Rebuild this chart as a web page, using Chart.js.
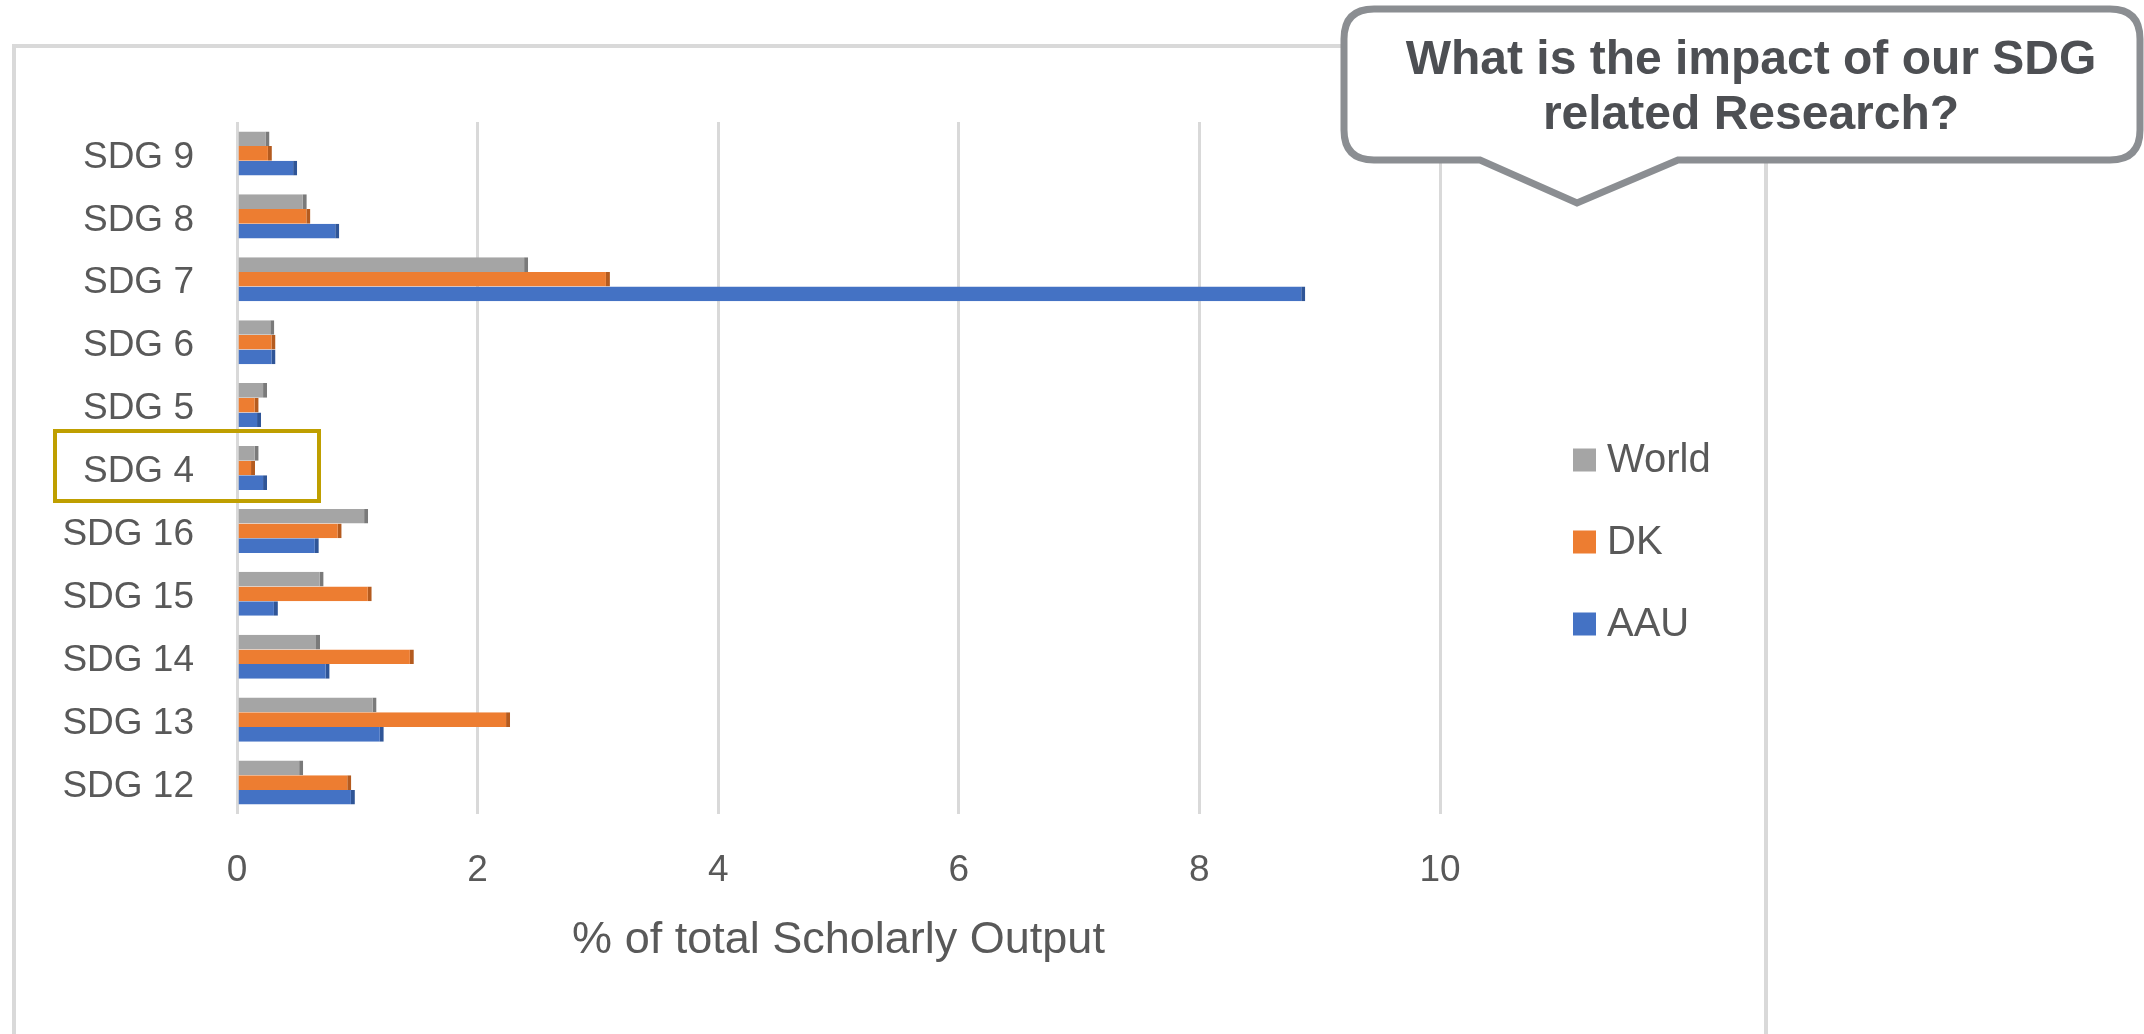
<!DOCTYPE html>
<html>
<head>
<meta charset="utf-8">
<script src="https://cdn.jsdelivr.net/npm/chart.js@4.4.1/dist/chart.umd.min.js"></script>
<style>
  html, body { margin: 0; padding: 0; background: #ffffff; }
  #wrap { width: 2144px; height: 1034px; position: relative; }
</style>
</head>
<body>
<div id="wrap"><canvas id="c" width="2144" height="1034"></canvas></div>
<script>
// ---- data ----
const categories = ['SDG 9', 'SDG 8', 'SDG 7', 'SDG 6', 'SDG 5', 'SDG 4', 'SDG 16', 'SDG 15', 'SDG 14', 'SDG 13', 'SDG 12'];
const seriesNames = ['World', 'DK', 'AAU'];
const worldValues = [0.27, 0.58, 2.42, 0.31, 0.25, 0.18, 1.09, 0.72, 0.69, 1.16, 0.55];
const dkValues    = [0.29, 0.61, 3.10, 0.32, 0.18, 0.15, 0.87, 1.12, 1.47, 2.27, 0.95];
const aauValues   = [0.50, 0.85, 8.88, 0.32, 0.20, 0.25, 0.68, 0.34, 0.77, 1.22, 0.98];
const xTickValues = [0, 2, 4, 6, 8, 10];
const axisTitle = '% of total Scholarly Output';
const calloutLines = ['What is the impact of our SDG', 'related Research?'];
const highlightedCategory = 'SDG 4';

// ---- styles ----
const colors = { World: '#A5A5A5', DK: '#ED7D31', AAU: '#4472C4' };
const edgeColors = { World: '#7A7A7A', DK: '#B45B1F', AAU: '#2F5597' };
const textColor = '#595959';
const fontFamily = '"Liberation Sans", Arial, sans-serif';

const valuesBySeries = { World: worldValues, DK: dkValues, AAU: aauValues };

const framePlugin = {
  id: 'frame',
  beforeDraw(chart) {
    const ctx = chart.ctx;
    ctx.save();
    ctx.fillStyle = '#ffffff';
    ctx.fillRect(0, 0, chart.width, chart.height);
    ctx.strokeStyle = '#D9D9D9';
    ctx.lineWidth = 4;
    ctx.beginPath();
    ctx.moveTo(14, chart.height + 10);
    ctx.lineTo(14, 46);
    ctx.lineTo(1766, 46);
    ctx.lineTo(1766, chart.height + 10);
    ctx.stroke();
    ctx.restore();
  }
};

const extrasPlugin = {
  id: 'extras',
  afterDraw(chart) {
    const ctx = chart.ctx;
    ctx.save();
    // legend
    const legendX = 1573, legendY0 = 460, legendStep = 82, box = 23;
    ctx.font = '40px ' + fontFamily;
    ctx.textBaseline = 'middle';
    ctx.textAlign = 'left';
    chart.data.datasets.forEach((ds, i) => {
      const cy = legendY0 + i * legendStep;
      ctx.fillStyle = ds.backgroundColor;
      ctx.fillRect(legendX, cy - box / 2, box, box);
      ctx.fillStyle = textColor;
      ctx.fillText(ds.label, legendX + 34, cy + 1);
    });

    // highlight box around category label
    const yScale = chart.scales.y;
    const idx = categories.indexOf(highlightedCategory);
    const py = yScale.getPixelForValue(idx);
    ctx.strokeStyle = '#BF9F00';
    ctx.lineWidth = 4;
    ctx.strokeRect(55, py - 37, 264, 70);

    // callout
    const L = 1344, R = 2140, T = 9, B = 160, r = 30;
    const pL = 1480, pR = 1678, pTipX = 1577, pTipY = 203;
    ctx.beginPath();
    ctx.moveTo(L + r, T);
    ctx.lineTo(R - r, T);
    ctx.quadraticCurveTo(R, T, R, T + r);
    ctx.lineTo(R, B - r);
    ctx.quadraticCurveTo(R, B, R - r, B);
    ctx.lineTo(pR, B);
    ctx.lineTo(pTipX, pTipY);
    ctx.lineTo(pL, B);
    ctx.lineTo(L + r, B);
    ctx.quadraticCurveTo(L, B, L, B - r);
    ctx.lineTo(L, T + r);
    ctx.quadraticCurveTo(L, T, L + r, T);
    ctx.closePath();
    ctx.fillStyle = '#ffffff';
    ctx.fill();
    ctx.strokeStyle = '#8B8E92';
    ctx.lineWidth = 7;
    ctx.lineJoin = 'miter';
    ctx.stroke();
    ctx.fillStyle = '#4D4F53';
    ctx.font = 'bold 48px ' + fontFamily;
    ctx.textAlign = 'center';
    ctx.textBaseline = 'middle';
    ctx.fillText(calloutLines[0], 1751, 61);
    ctx.fillText(calloutLines[1], 1751, 116);
    ctx.restore();
  }
};

const datasets = seriesNames.map(name => ({
  label: name,
  data: valuesBySeries[name],
  backgroundColor: colors[name],
  borderColor: edgeColors[name],
  borderWidth: { top: 0, right: 4, bottom: 0, left: 0 },
  borderSkipped: 'start',
  categoryPercentage: 0.7,
  barPercentage: 1.0
}));

new Chart(document.getElementById('c'), {
  type: 'bar',
  data: { labels: categories, datasets },
  plugins: [framePlugin, extrasPlugin],
  options: {
    indexAxis: 'y',
    responsive: false,
    animation: false,
    devicePixelRatio: 1,
    layout: { padding: { left: 0, top: 122, right: 704, bottom: 0 } },
    plugins: {
      legend: { display: false },
      tooltip: { enabled: false },
      title: { display: false }
    },
    scales: {
      x: {
        type: 'linear',
        min: 0,
        max: 10,
        afterBuildTicks(scale) { scale.ticks = xTickValues.map(v => ({ value: v })); },
        afterFit(scale) { scale.height = 1034 - 814; },
        grid: { color: '#D9D9D9', lineWidth: 3, drawTicks: false },
        border: { display: false },
        ticks: {
          padding: 35,
          color: textColor,
          font: { family: fontFamily, size: 37 }
        },
        title: {
          display: true,
          text: axisTitle,
          color: textColor,
          font: { family: fontFamily, size: 45 },
          padding: { top: 0, bottom: 66 }
        }
      },
      y: {
        type: 'category',
        afterFit(scale) { scale.width = 237; },
        grid: { display: false, drawTicks: false },
        border: { display: false },
        ticks: {
          padding: 43,
          labelOffset: 4,
          color: textColor,
          font: { family: fontFamily, size: 37 }
        }
      }
    }
  }
});
</script>
</body>
</html>
